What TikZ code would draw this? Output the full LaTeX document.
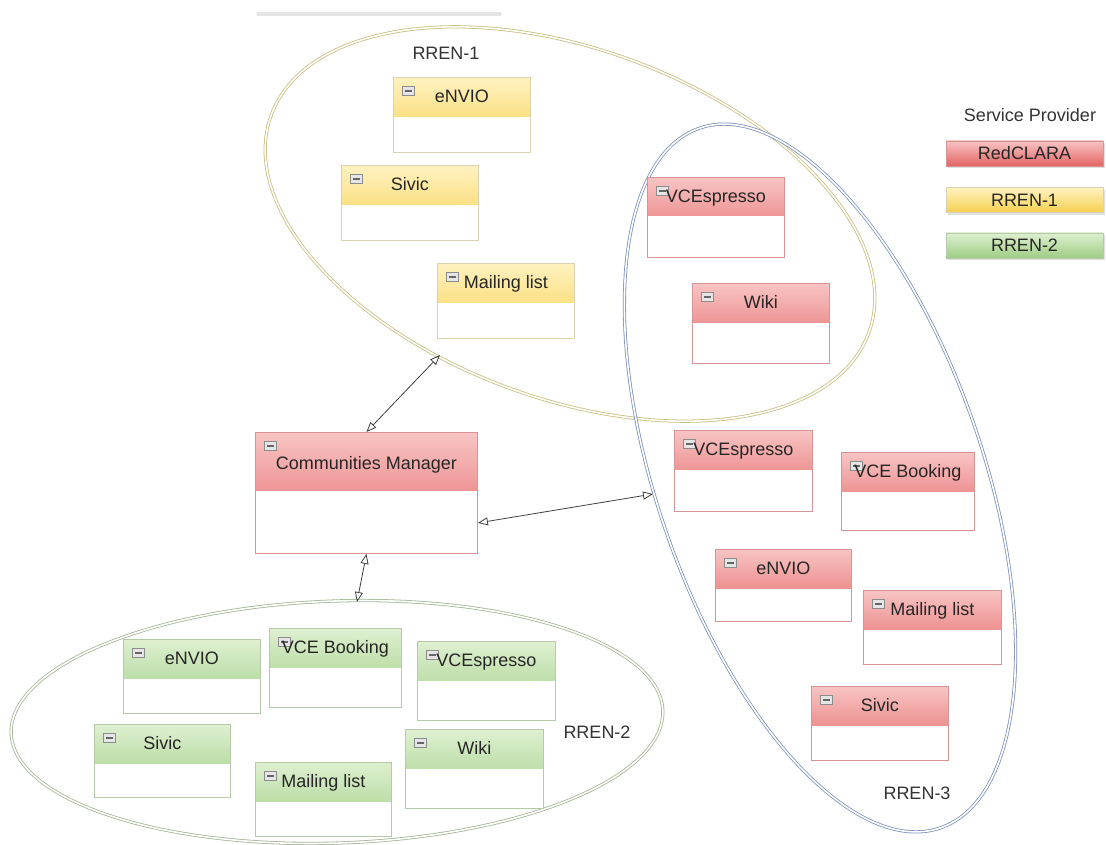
\documentclass[tikz,border=0pt]{standalone}
\usepackage{fontspec}
\setmainfont{Liberation Sans}
\usetikzlibrary{arrows.meta,shadows}

\definecolor{yelTop}{HTML}{FFF2C0}
\definecolor{yelBot}{HTML}{F6D050}
\definecolor{yelLine}{HTML}{D9D2AE}
\definecolor{redTop}{HTML}{F8C4C4}
\definecolor{redBot}{HTML}{E46464}
\definecolor{redLine}{HTML}{D69494}
\definecolor{grnTop}{HTML}{DEF0D0}
\definecolor{grnBot}{HTML}{9ECD84}
\definecolor{grnLine}{HTML}{B6C9A8}
\definecolor{ringYel}{HTML}{C9BE80}
\definecolor{ringBlu}{HTML}{7F92BC}
\definecolor{ringGrn}{HTML}{A6B596}

\newcommand\diafont{\fontsize{18}{21}\selectfont}

\tikzset{
  hdr/.store in=\hdrh, hdr=39pt,
  svcbox/.style={draw=#1Line, fill=white, line width=0.9pt, inner sep=0pt,
    anchor=north west, minimum width=137pt, text height=25pt, text depth=50pt,
    font=\diafont, text=black!85,
    path picture={
      \shade[top color=#1Top, bottom color=#1Bot]
        (path picture bounding box.north west) rectangle
        ([yshift=-\hdrh]path picture bounding box.north east);
      \draw[black!45, fill=black!10, line width=0.6pt]
        ([xshift=9pt,yshift=-9pt]path picture bounding box.north west) rectangle +(12pt,-9pt);
      \draw[black!60, line width=1.2pt]
        ([xshift=11.5pt,yshift=-13.5pt]path picture bounding box.north west) -- +(7pt,0);
    }},
  provbox/.style={draw=#1Line, top color=#1Top, bottom color=#1Bot, minimum width=157pt,
    minimum height=25pt, inner sep=0pt, font=\diafont, text=black!85,
    drop shadow={opacity=0.25, shadow xshift=1.5pt, shadow yshift=-2.5pt}},
  ring/.style={draw=#1, line width=0.8pt, double=white, double distance=1.6pt},
  conn/.style={draw=black!75, line width=0.8pt,
    {Triangle[open,length=10pt,width=8pt]}-{Triangle[open,length=10pt,width=8pt]}},
  grp/.style={font=\diafont, text=black!80}
}

\begin{document}
\begin{tikzpicture}[x=1pt, y=-1pt]
  \fill[white] (0,0) rectangle (1106,845);
  \useasboundingbox (0,0) rectangle (1106,845);
  \draw[black!10, line width=3.5pt, line cap=round] (258,14) -- (500,14);

  % provider groups
  \draw[ring=ringYel, rotate around={-20:(570,224)}] (570,224) ellipse [x radius=318, y radius=175];
  \draw[ring=ringBlu, rotate around={19:(820,478)}] (820,478) ellipse [x radius=163, y radius=370];
  \draw[ring=ringGrn, rotate around={2:(337,722)}] (337,722) ellipse [x radius=326, y radius=121];
  \node[grp] (rren1) at (446,53) {RREN-1};
  \node[grp] (rren2) at (597,732) {RREN-2};
  \node[grp] (rren3) at (917,793) {RREN-3};

  % RREN-1
  \node[svcbox=yel] (r1envio) at (393,77) {eNVIO};
  \node[svcbox=yel] (r1sivic) at (341,165) {Sivic};
  \node[svcbox=yel] (r1mail) at (437,263) {Mailing list};

  % RREN-3
  \node[svcbox=red, text depth=55pt, hdr=38pt] (r3vcesp) at (647,177) {VCEspresso};
  \node[svcbox=red, text depth=55pt] (r3wiki) at (692,283) {Wiki};
  \node[svcbox=red, text depth=56pt, minimum width=138pt] (r3vcesp2) at (674,430) {VCEspresso};
  \node[svcbox=red, text depth=53pt, minimum width=133pt] (r3book) at (841,452) {VCE Booking};
  \node[svcbox=red, text depth=47pt, minimum width=136pt] (r3envio) at (715,549) {eNVIO};
  \node[svcbox=red, text depth=49pt, minimum width=138pt] (r3mail) at (863,590) {Mailing list};
  \node[svcbox=red, text depth=49pt] (r3sivic) at (811,686) {Sivic};

  % RREN-2
  \node[svcbox=grn, text depth=49pt] (r2envio) at (123,639) {eNVIO};
  \node[svcbox=grn, text depth=54pt, minimum width=132pt] (r2book) at (269,628) {VCE Booking};
  \node[svcbox=grn, text depth=54pt, minimum width=138pt] (r2vcesp) at (417,641) {VCEspresso};
  \node[svcbox=grn, text depth=48pt, minimum width=136pt] (r2sivic) at (94,724) {Sivic};
  \node[svcbox=grn, text depth=49pt, minimum width=136pt] (r2mail) at (255,762) {Mailing list};
  \node[svcbox=grn, text depth=54pt, minimum width=138pt] (r2wiki) at (405,729) {Wiki};

  \node[svcbox=red, minimum width=222pt, text height=37pt, text depth=84pt, hdr=58pt]
    (cm) at (255,432) {Communities Manager};

  % legend
  \node[grp] (provider) at (1030,115) {Service Provider};
  \node[provbox=red] (lgred) at (1024.5,153.5) {RedCLARA};
  \node[provbox=yel] (lgyel) at (1024.5,200) {RREN-1};
  \node[provbox=grn] (lggrn) at (1024.5,245.5) {RREN-2};

  \coordinate (r1in) at (440,355);
  \coordinate (r3in) at (653,494);
  \coordinate (r2in) at (357,602);
  \draw[conn] (cm.north) -- (r1in);
  \draw[conn] ([yshift=-30pt]cm.east) -- (r3in);
  \draw[conn] (cm.south) -- (r2in);
\end{tikzpicture}
\end{document}
